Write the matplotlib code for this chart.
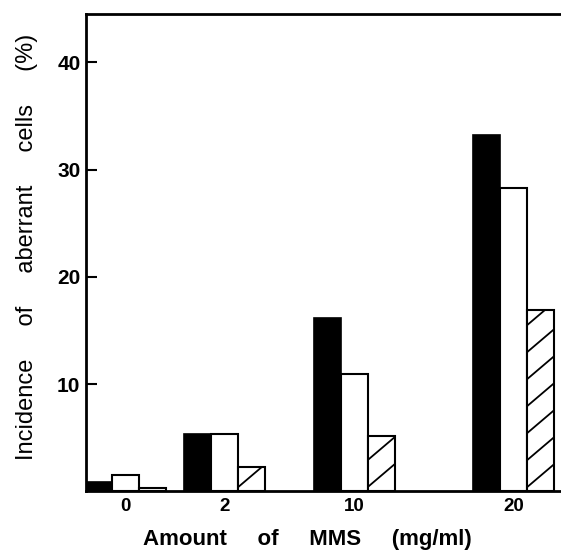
import numpy as np
import matplotlib.pyplot as plt

# data (incidence of aberrant cells, %)
doses = ['0', '2', '10', '20']
black_vals = [0.9, 5.3, 16.2, 33.2]
white_vals = [1.5, 5.3, 10.9, 28.3]
hatch_vals = [0.35, 2.3, 5.2, 16.9]

# layout (x axis runs in pixel-like units, groups are not evenly spaced)
group_pos = np.array([39.5, 138.5, 268.0, 427.5])
bar_w = 27
ymax = 44.5

plt.rcParams['font.family'] = ['Liberation Sans', 'DejaVu Sans']

fig = plt.figure(figsize=(5.61, 5.51), dpi=100)
ax = fig.add_axes([86 / 561, 59.7 / 551, 475 / 561, 477.3 / 551])

ax.bar(group_pos - bar_w, black_vals, bar_w, color='black', edgecolor='black', linewidth=1.2)
ax.bar(group_pos, white_vals, bar_w, color='white', edgecolor='black', linewidth=1.5)
hb = ax.bar(group_pos + bar_w, hatch_vals, bar_w, color='white', edgecolor='black', linewidth=1.5)

ax.set_xlim(0, 475)
ax.set_ylim(0, ymax)

# sparse diagonal hatching, drawn by hand (matplotlib hatch is too dense)
px_per_y = (477.3) / ymax
slope = 0.85
step = 27
for r in hb:
    x0, w, h = r.get_x(), r.get_width(), r.get_height()
    for c in np.arange(-w * slope, h * px_per_y + step, step):
        ln, = ax.plot([x0, x0 + w], [c / px_per_y, (c + w * slope) / px_per_y],
                      color='black', linewidth=1.3, solid_capstyle='butt')
        ln.set_clip_path(r)

for s in ['left', 'top', 'bottom']:
    ax.spines[s].set_linewidth(2)
ax.spines['right'].set_visible(False)

ax.set_xticks(group_pos)
ax.set_xticklabels(doses, fontsize=13.5, fontweight='bold')
ax.tick_params(axis='x', length=0, pad=5)
ax.set_yticks([10, 20, 30, 40])
ax.set_yticklabels(['10', '20', '30', '40'], fontsize=15, fontweight='bold')
ax.tick_params(axis='y', direction='in', length=8, width=1.5, pad=4)

fig.text(27 / 561, 1 - 247 / 551, 'Incidence     of     aberrant     cells     (%)',
         rotation=90, ha='center', va='center', fontsize=17)
fig.text(307 / 561, 1 - 545 / 551, 'Amount     of     MMS     (mg/ml)',
         ha='center', va='baseline', fontsize=16, fontweight='bold')

plt.savefig('out.png', dpi=100)
